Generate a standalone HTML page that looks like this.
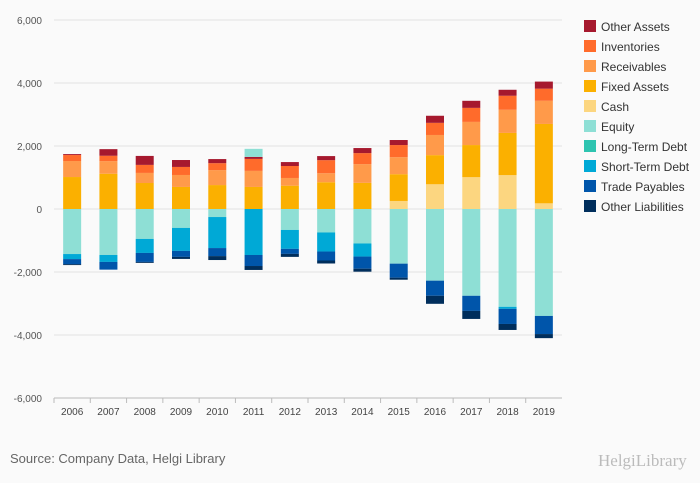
<!DOCTYPE html>
<html><head><meta charset="utf-8">
<style>
body{margin:0;background:#fafafa;font-family:"Liberation Sans","DejaVu Sans",sans-serif;}
svg{display:block}
</style></head>
<body>
<svg id="chart" width="700" height="483" xmlns="http://www.w3.org/2000/svg">
<rect width="700" height="483" fill="#fafafa"/>
<g id="grid"></g><g id="bars"></g><g id="axes"></g><g id="legend"></g>
<text x="10" y="463" font-size="13" fill="#666">Source: Company Data, Helgi Library</text>
<text x="598" y="466" font-size="17" fill="#bbb" font-family="Liberation Serif, serif">HelgiLibrary</text>
</svg>
<script>
const years=["2006","2007","2008","2009","2010","2011","2012","2013","2014","2015","2016","2017","2018","2019"];
const yTicks=[-6000,-4000,-2000,0,2000,4000,6000];
const cash=[0,0,0,0,0,0,0,0,0,255,785,1010,1075,180];
const fixedAssets=[1015,1120,825,700,760,700,740,850,830,850,925,1020,1340,2520];
const receivables=[508,400,320,380,475,510,245,285,595,540,640,735,735,735];
const inventories=[190,170,255,255,220,380,380,415,350,385,385,445,445,385];
const otherAssets=[30,210,285,220,130,65,125,130,160,160,225,225,190,225];
const equity=[-1430,-1460,-950,-600,-255,255,-665,-745,-1095,-1735,-2275,-2755,-3105,-3395];
const longTermDebt=[0,0,0,0,0,0,0,0,0,0,0,0,0,0];
const shortTermDebt=[-160,-220,-445,-730,-985,-1460,-600,-605,-415,0,0,0,-65,0];
const tradePayables=[-160,-245,-285,-190,-255,-350,-160,-285,-385,-445,-480,-480,-480,-575];
const otherLiabilities=[-30,0,-30,-65,-125,-125,-95,-95,-95,-65,-255,-255,-190,-130];

const series=[
 {name:"Other Assets",color:"#a6192e",v:otherAssets},
 {name:"Inventories",color:"#ff6b2b",v:inventories},
 {name:"Receivables",color:"#ff9a4a",v:receivables},
 {name:"Fixed Assets",color:"#fbb000",v:fixedAssets},
 {name:"Cash",color:"#fcd680",v:cash},
 {name:"Equity",color:"#8edfd5",v:equity},
 {name:"Long-Term Debt",color:"#2ec4b0",v:longTermDebt},
 {name:"Short-Term Debt",color:"#00a9d6",v:shortTermDebt},
 {name:"Trade Payables",color:"#0055aa",v:tradePayables},
 {name:"Other Liabilities",color:"#002e5c",v:otherLiabilities}
];
const NS="http://www.w3.org/2000/svg";
const X0=54,X1=562,Y0=398,Y1=20,band=(X1-X0)/years.length,bw=18;
const y=v=>209-(v)*(Y0-Y1)/12000;
const xc=i=>X0+band*(i+0.5);
function mk(tag,attrs,parent,text){const e=document.createElementNS(NS,tag);for(const k in attrs)e.setAttribute(k,attrs[k]);if(text!==undefined)e.textContent=text;parent.appendChild(e);return e;}
const grid=document.getElementById('grid'),axes=document.getElementById('axes'),bars=document.getElementById('bars'),leg=document.getElementById('legend');
yTicks.forEach(t=>{
 if(t!==-6000){const l=mk('line',{x1:X0,x2:X1,y1:y(t),y2:y(t),stroke:'#e3e3e3','stroke-width':1},grid);
 
 }
 const tx=mk('text',{x:42,y:y(t)+4,'text-anchor':'end','font-size':10,fill:'#555'},axes,t.toLocaleString('en-US'));
 
 
});
const ax=mk('line',{x1:X0,x2:X1,y1:Y0,y2:Y0,stroke:'#bbb'},axes);


years.forEach((yr,i)=>{
 const tk=mk('line',{x1:X0+band*i,x2:X0+band*i,y1:Y0,y2:Y0+5,stroke:'#bbb'},axes);
 
 
 const tx=mk('text',{x:xc(i),y:415,'text-anchor':'middle','font-size':10,fill:'#444'},axes,yr);
 
 
 let pos=0,neg=0;
 // draw from bottom of stack: cash first for positives
 const order=[4,3,2,1,0,5,6,7,8,9];
 order.forEach(si=>{
  const s=series[si],v=s.v[i];if(!v)return;
  let a,b;
  if(v>0){a=pos;b=pos+v;pos=b;}else{a=neg;b=neg+v;neg=b;}
  const r=mk('rect',{x:xc(i)-bw/2,width:bw,y:Math.min(y(a),y(b)),height:Math.abs(y(a)-y(b)),fill:s.color},bars);
  
  
 });
});
series.forEach((s,k)=>{
 const g=mk('g',{},leg);
 
 
 const yy=20+k*20;
 mk('rect',{x:584,y:yy,width:12,height:12,fill:s.color},g);
 mk('text',{x:601,y:yy+11,'font-size':12,fill:'#333'},g,s.name);
});
</script>
</body></html>
